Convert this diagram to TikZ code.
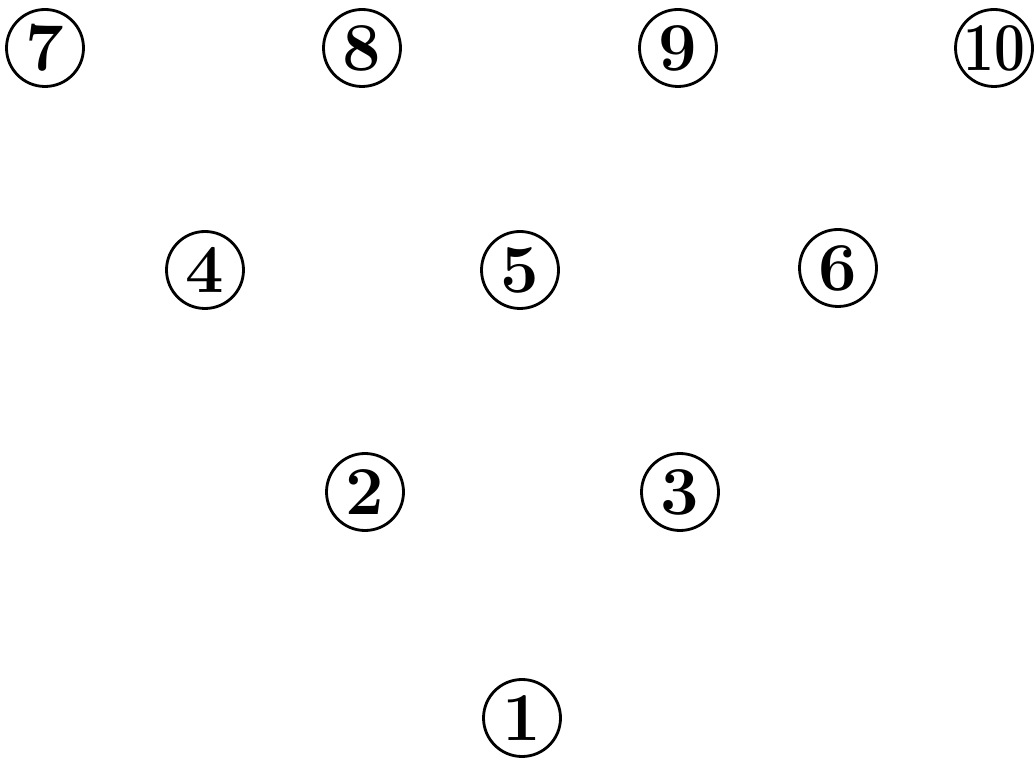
\documentclass[tikz,border=0pt]{standalone}
\usepackage{tikz}
\usepackage{graphicx}

\begin{document}
\begin{tikzpicture}[
			pin/.style={draw, circle, line width=1.6pt, minimum size=1.54cm, inner sep=0pt, font=\fontsize{39}{39}\selectfont\bfseries}
		]
		\useasboundingbox (0,0) rectangle (20.68,15.16);
		\node[pin] (p7) at (0.90,14.20) {7};
		\node[pin] (p8) at (7.24,14.20) {8};
		\node[pin] (p9) at (13.56,14.20) {9};
		\node[pin] (p10) at (19.88,14.20) {\scalebox{0.8}[1]{\textbf{10}}};
		\node[pin] (p4) at (4.10,9.76) {4};
		\node[pin] (p5) at (10.40,9.76) {5};
		\node[pin] (p6) at (16.76,9.80) {6};
		\node[pin] (p2) at (7.30,5.32) {2};
		\node[pin] (p3) at (13.60,5.32) {3};
		\node[pin] (p1) at (10.44,0.80) {1};
	\end{tikzpicture}
\end{document}
